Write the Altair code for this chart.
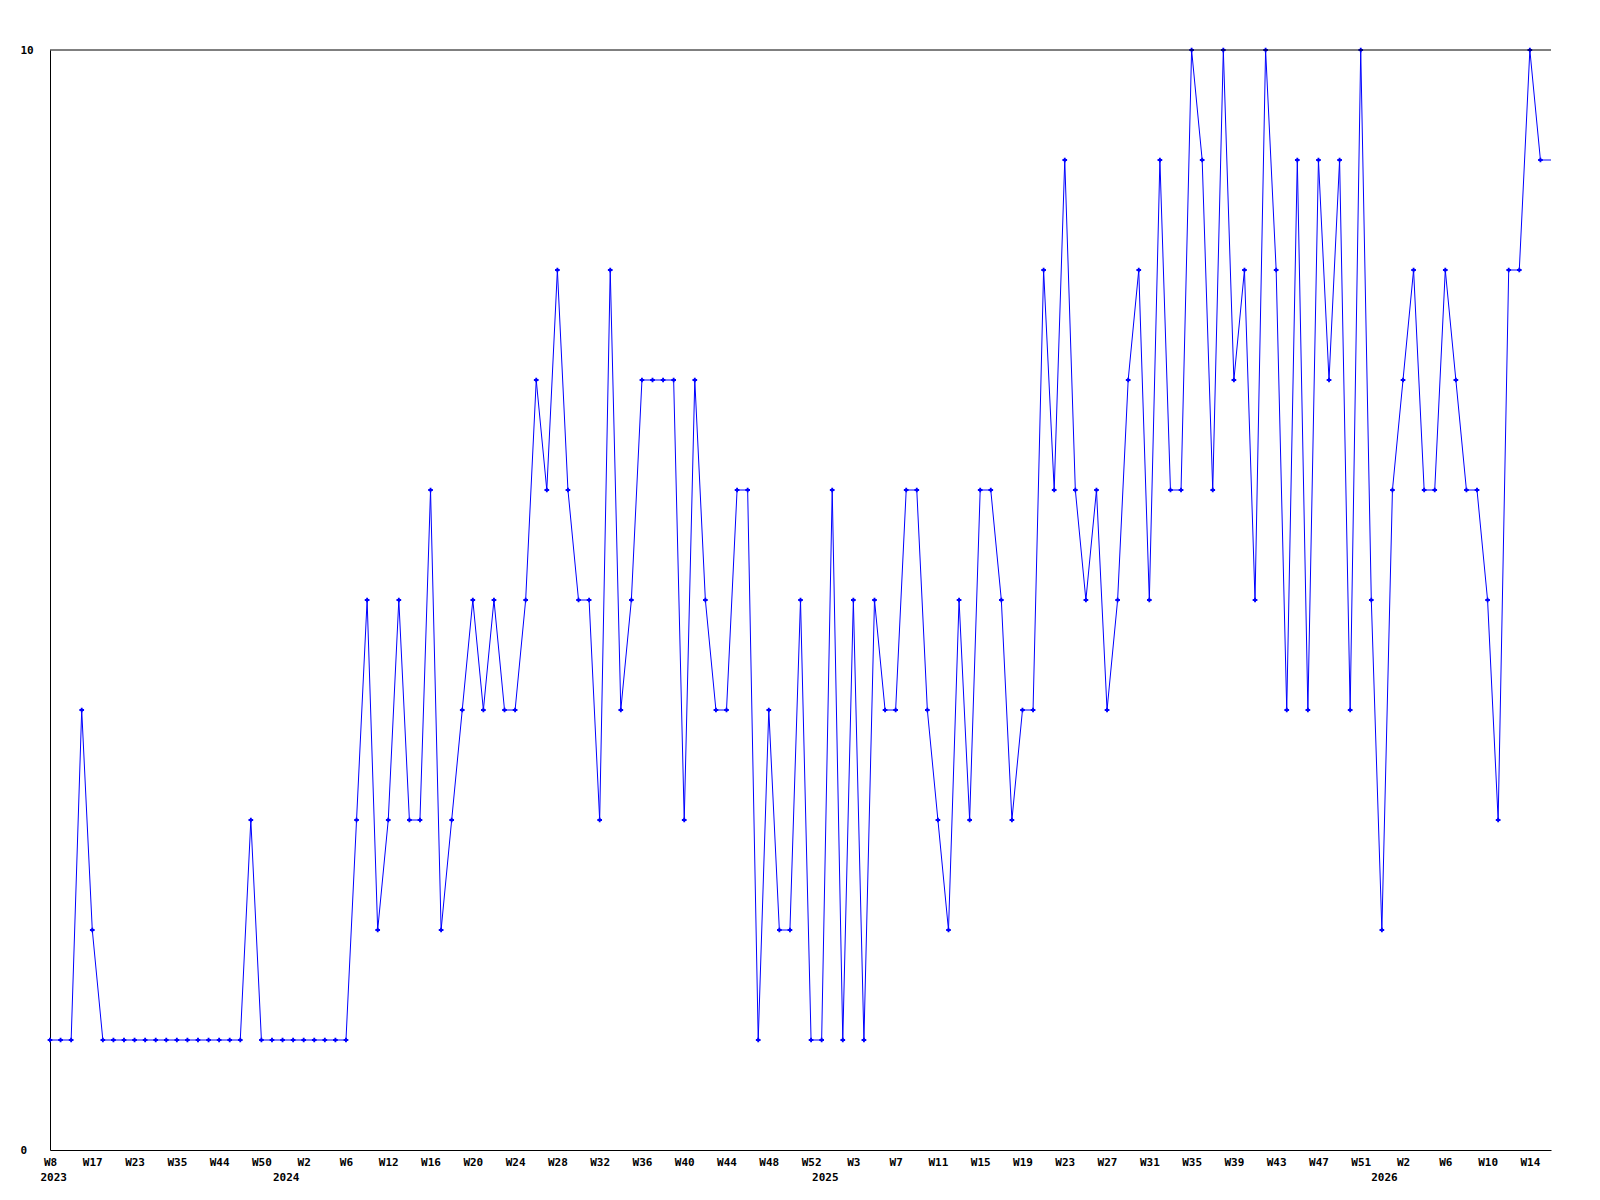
import json
import altair as alt
import pandas as pd

# ---- data ----
values = [
    1, 1, 1, 4, 2, 1, 1, 1, 1, 1, 1, 1, 1, 1, 1, 1, 1, 1, 1, 3,
    1, 1, 1, 1, 1, 1, 1, 1, 1, 3, 5, 2, 3, 5, 3, 3, 6, 2, 3, 4,
    5, 4, 5, 4, 4, 5, 7, 6, 8, 6, 5, 5, 3, 8, 4, 5, 7, 7, 7, 7,
    3, 7, 5, 4, 4, 6, 6, 1, 4, 2, 2, 5, 1, 1, 6, 1, 5, 1, 5, 4,
    4, 6, 6, 4, 3, 2, 5, 3, 6, 6, 5, 3, 4, 4, 8, 6, 9, 6, 5, 6,
    4, 5, 7, 8, 5, 9, 6, 6, 10, 9, 6, 10, 7, 8, 5, 10, 8, 4, 9, 4,
    9, 7, 9, 4, 10, 5, 2, 6, 7, 8, 6, 6, 8, 7, 6, 6, 5, 3, 8, 8,
    10, 9, 9,
]

week_labels = [
    "W8", "W17", "W23", "W35", "W44", "W50", "W2", "W6", "W12", "W16",
    "W20", "W24", "W28", "W32", "W36", "W40", "W44", "W48", "W52", "W3",
    "W7", "W11", "W15", "W19", "W23", "W27", "W31", "W35", "W39", "W43",
    "W47", "W51", "W2", "W6", "W10", "W14",
]
week_label_step = 4

years = ["2023", "2024", "2025", "2026"]
year_positions = [0.3, 22.3, 73.3, 126.2]

y_labels = [0, 10]

n = len(values)
df = pd.DataFrame({"i": list(range(n)), "v": values})
df["marker"] = df["i"] < n - 1

FONT = "DejaVu Sans Mono"
BLUE = "#0000ff"

x_domain = [0, n - 1]
tick_vals = [k * week_label_step for k in range(len(week_labels))]
week_expr = json.dumps(week_labels) + f"[round(datum.value / {week_label_step})]"
year_map = {str(p): y for p, y in zip(year_positions, years)}
year_expr = json.dumps(year_map) + "[datum.value + '']"

x_week = alt.X(
    "i:Q",
    scale=alt.Scale(domain=x_domain, nice=False, zero=False),
    axis=alt.Axis(
        values=tick_vals,
        labelExpr=week_expr,
        title=None,
        grid=False,
        ticks=False,
        domain=True,
        domainColor="black",
        domainWidth=1,
        labelFont=FONT,
        labelFontWeight="bold",
        labelFontSize=11,
        labelColor="black",
        labelPadding=6,
        labelAlign="center",
        labelOverlap=False,
        labelFlush=False,
        orient="bottom",
    ),
)

y_enc = alt.Y(
    "v:Q",
    scale=alt.Scale(domain=[0, 10], nice=False, zero=True),
    axis=alt.Axis(
        values=y_labels,
        format="d",
        title=None,
        grid=False,
        ticks=False,
        domain=True,
        domainColor="black",
        domainWidth=1,
        labelFont=FONT,
        labelFontWeight="bold",
        labelFontSize=11,
        labelColor="black",
        labelAlign="left",
        labelBaseline="middle",
        labelPadding=30,
        labelFlush=False,
    ),
)

line = alt.Chart(df).mark_line(color=BLUE, strokeWidth=1, interpolate="linear").encode(
    x=x_week, y=y_enc
)
pts = (
    alt.Chart(df)
    .transform_filter("datum.marker")
    .mark_point(shape="cross", filled=True, size=22, color=BLUE, opacity=1)
    .encode(x=alt.X("i:Q"), y=alt.Y("v:Q"))
)

top_df = pd.DataFrame({"top": [10]})
top_rule = alt.Chart(top_df).mark_rule(color="black", strokeWidth=1).encode(y="top:Q")

year_df = pd.DataFrame({"pos": year_positions, "year": years, "v": [0] * len(years)})
year_layer = alt.Chart(year_df).mark_point(opacity=0).encode(
    x=alt.X(
        "pos:Q",
        scale=alt.Scale(domain=x_domain, nice=False, zero=False),
        axis=alt.Axis(
            values=year_positions,
            labelExpr=year_expr,
            title=None,
            grid=False,
            ticks=False,
            domain=False,
            labelFont=FONT,
            labelFontWeight="bold",
            labelFontSize=11,
            labelColor="black",
            labelPadding=21,
            labelAlign="center",
            labelOverlap=False,
            labelFlush=False,
            orient="bottom",
        ),
    ),
    y=alt.Y("v:Q"),
)

main = alt.layer(line, pts, top_rule)
chart = (
    alt.layer(main, year_layer)
    .resolve_scale(x="independent")
    .properties(
        width=1501,
        height=1100,
        autosize=alt.AutoSizeParams(type="none"),
        padding={"left": 42, "top": 42, "right": 30, "bottom": 40},
        view=alt.ViewBackground(stroke="transparent", strokeWidth=0),
    )
    .configure_view(stroke="transparent", strokeWidth=0)
    .configure(background="white")
)

chart.save("out.html", embed_options={"renderer": "svg", "actions": False})
